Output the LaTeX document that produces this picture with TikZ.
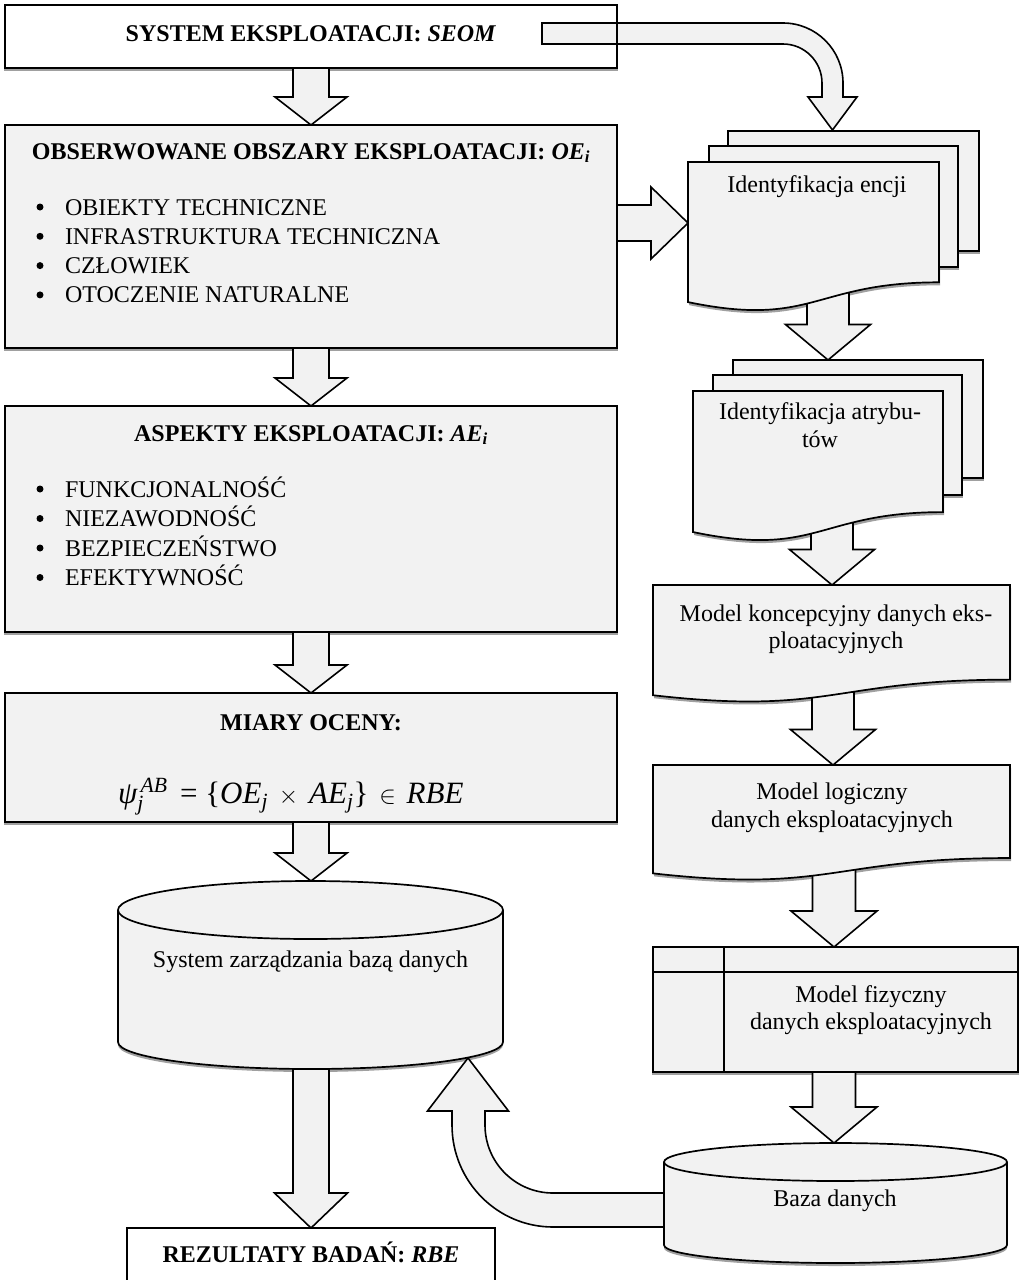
\documentclass[tikz,border=0pt]{standalone}
\usepackage{fontspec}
\setmainfont{Liberation Serif}
\usepackage{amsmath}
\usetikzlibrary{calc}

\definecolor{panel}{HTML}{F2F2F2}
\definecolor{shadecol}{HTML}{A0A0A0}

\pgfdeclarelayer{shadowlayer}
\pgfdeclarelayer{arrowlayer}
\pgfsetlayers{shadowlayer,arrowlayer,main}

% document sheet with a wavy lower edge: left, top, width, height
\newcommand\docpath[4]{(#1,#2) -- ({#1+#3},#2) -- ({#1+#3},{#2+0.802*#4})
  .. controls ({#1+0.5*#3},{#2+0.802*#4}) and ({#1+0.5*#3},{#2+1.107*#4}) .. (#1,{#2+0.934*#4}) -- cycle}

% drum outline: centre x, half width, top rim y, bottom rim y, top rim depth, bottom rim depth
\newcommand\drumpath[6]{({#1-#2},#3) -- ({#1-#2},#4)
  .. controls ({#1-#2},{#4+0.5523*#6}) and ({#1-0.5523*#2},{#4+#6}) .. (#1,{#4+#6})
  .. controls ({#1+0.5523*#2},{#4+#6}) and ({#1+#2},{#4+0.5523*#6}) .. ({#1+#2},#4)
  -- ({#1+#2},#3)
  .. controls ({#1+#2},{#3-0.5523*#5}) and ({#1+0.5523*#2},{#3-#5}) .. (#1,{#3-#5})
  .. controls ({#1-0.5523*#2},{#3-#5}) and ({#1-#2},{#3-0.5523*#5}) .. ({#1-#2},#3) -- cycle}

% front half of a drum's top rim: centre x, half width, rim y, rim depth
\newcommand\drumrim[4]{({#1-#2},#3)
  .. controls ({#1-#2},{#3+0.5523*#4}) and ({#1-0.5523*#2},{#3+#4}) .. (#1,{#3+#4})
  .. controls ({#1+0.5523*#2},{#3+#4}) and ({#1+#2},{#3+0.5523*#4}) .. ({#1+#2},#3)}

% downward block arrow: start, tip, half shaft, half head, head length
\newcommand\blockdown[5]{%
  \path[barrow] let \p1=(#1), \p2=(#2) in
    ({\x2-#3pt},\y1) -- ({\x2-#3pt},{\y2+#5pt}) -- ({\x2-#4pt},{\y2+#5pt}) -- (\p2)
    -- ({\x2+#4pt},{\y2+#5pt}) -- ({\x2+#3pt},{\y2+#5pt}) -- ({\x2+#3pt},\y1) -- cycle;}

% rightward block arrow: start, tip, half shaft, half head, head length
\newcommand\blockright[5]{%
  \path[barrow] let \p1=(#1), \p2=(#2) in
    (\x1,{\y2+#3pt}) -- ({\x2-#5pt},{\y2+#3pt}) -- ({\x2-#5pt},{\y2+#4pt}) -- (\p2)
    -- ({\x2-#5pt},{\y2-#4pt}) -- ({\x2-#5pt},{\y2-#3pt}) -- (\x1,{\y2-#3pt}) -- cycle;}

\tikzset{
  every node/.style={inner sep=0pt, outer sep=0pt},
  panelbox/.style={draw=black, fill=panel, line width=1.8pt, anchor=north west},
  framebox/.style={draw=black, fill=white, line width=1.8pt, anchor=north west},
  sheet/.style={draw=black, fill=panel, line width=1.7pt, line join=miter},
  barrow/.style={draw=black, fill=panel, line width=1.6pt, line join=miter},
  shade/.style={fill=shadecol},
  dot/.style={circle, fill=black, minimum size=7pt},
  txt/.style={font=\fontsize{24}{29.3}\selectfont, anchor=base},
  itm/.style={font=\fontsize{24}{29.3}\selectfont, anchor=base west},
  ttl/.style={font=\fontsize{24}{29.3}\selectfont\bfseries, anchor=base},
}

\begin{document}
\begin{tikzpicture}[x=1pt, y=-1pt]
\useasboundingbox (0,0) rectangle (1020,1280);

% ---------------- left column boxes
\node[draw=black, line width=1.8pt, anchor=north west, minimum width=612pt, minimum height=63pt] (sys) at (5,5) {};
\node[panelbox, minimum width=612pt, minimum height=223pt] (oe) at (5,125) {};
\node[panelbox, minimum width=612pt, minimum height=226pt] (ae) at (5,406) {};
\node[panelbox, minimum width=612pt, minimum height=129pt] (miary) at (5,693) {};
\node[framebox, minimum width=368pt, minimum height=80pt] (rbe) at (127,1228) {};

% database management system drum
\path[sheet] \drumpath{310.5}{192.5}{910}{1042}{29}{27};
\draw[line width=1.7pt] \drumrim{310.5}{192.5}{910}{29};
\coordinate (szbdTop) at (311,881);
\coordinate (szbdBase) at (311,1060);
\coordinate (szbdIn) at (468,1058);

% ---------------- right column
% entity identification (stack of sheets)
\draw[sheet] (728,131) rectangle (979,251);
\draw[sheet] (709,146) rectangle (958,267);
\path[sheet] \docpath{688}{162}{251}{150};
\coordinate (encjiTop) at (832.5,130);
\coordinate (encjiIn) at (688,223);
\coordinate (encjiOut) at (828,285);

% attribute identification (stack of sheets)
\draw[sheet] (733,360) rectangle (983,478);
\draw[sheet] (713,375) rectangle (962,495);
\path[sheet] \docpath{693}{391}{250}{151};
\coordinate (atrIn) at (828,360);
\coordinate (atrOut) at (832,505);

% conceptual and logical models
\path[sheet] \docpath{653}{585}{357}{118};
\coordinate (koncIn) at (832,585);
\coordinate (koncOut) at (833,670);
\path[sheet] \docpath{653}{765}{357}{116};
\coordinate (logIn) at (833,765);
\coordinate (logOut) at (834,850);

% physical model (internal storage)
\node[panelbox, minimum width=365pt, minimum height=125pt] (fiz) at (653,947) {};
\draw[line width=1.7pt] (724,947) -- (724,1072);
\draw[line width=1.7pt] (653,972) -- (1018,972);
\coordinate (fizIn) at (834,947);

% database drum
\path[sheet] \drumpath{835.5}{171.5}{1162}{1245}{19}{18};
\draw[line width=1.7pt] \drumrim{835.5}{171.5}{1162}{19};
\coordinate (bazaIn) at (834,1143);

% ---------------- shadows
\begin{pgfonlayer}{shadowlayer}
  \fill[white] (0,0) rectangle (1020,1280);
  \foreach \b in {sys,oe,ae,miary,fiz}
    \fill[shade] ([xshift=-1pt]\b.south west) rectangle ([xshift=1pt,yshift=-3pt]\b.south east);
  \fill[shade, shift={(1,3)}] (728,131) rectangle (979,251);
  \fill[shade, shift={(1,3)}] (709,146) rectangle (958,267);
  \fill[shade, shift={(1,3)}] \docpath{688}{162}{251}{150};
  \fill[shade, shift={(1,3)}] (733,360) rectangle (983,478);
  \fill[shade, shift={(1,3)}] (713,375) rectangle (962,495);
  \fill[shade, shift={(1,3)}] \docpath{693}{391}{250}{151};
  \fill[shade, shift={(1,3)}] \docpath{653}{585}{357}{118};
  \fill[shade, shift={(1,3)}] \docpath{653}{765}{357}{116};
  \fill[shade, shift={(0,3)}] \drumpath{310.5}{192.5}{910}{1042}{29}{27};
  \fill[shade, shift={(0,3)}] \drumpath{835.5}{171.5}{1162}{1245}{19}{18};
\end{pgfonlayer}

% ---------------- block arrows
\begin{pgfonlayer}{arrowlayer}
  \blockdown{sys.south}{oe.north}{18}{36}{28}
  \blockdown{oe.south}{ae.north}{18}{36}{28}
  \blockdown{ae.south}{miary.north}{18}{36}{28}
  \blockdown{miary.south}{szbdTop}{18}{36}{28}
  \blockdown{szbdBase}{rbe.north}{18}{36.5}{35}
  \blockright{600,223}{encjiIn}{18}{36}{37}
  \blockdown{encjiOut}{atrIn}{21}{42.5}{35.5}
  \blockdown{atrOut}{koncIn}{21}{42.5}{35.5}
  \blockdown{koncOut}{logIn}{21}{42.5}{35.5}
  \blockdown{logOut}{fizIn}{21.5}{43}{36}
  \blockdown{fiz.south}{bazaIn}{21.5}{43}{36}
  % bent arrow from the system box down to the entity sheets
  \path[barrow] (542,23) -- (783,23) .. controls (816.1,23) and (843,49.9) .. (843,83)
    -- (843,97) -- (857,97) -- (encjiTop) -- (808,97) -- (822,97) -- (822,83)
    .. controls (822,61.5) and (804.5,44) .. (783,44) -- (542,44) -- cycle;
  % bent arrow from the database back up to the management system
  \path[barrow] (690,1193) -- (553,1193) .. controls (515.4,1193) and (485,1162.6) .. (485,1125)
    -- (485,1111) -- (508.5,1111) -- (szbdIn) -- (427.5,1111) -- (452,1111) -- (452,1125)
    .. controls (452,1181.3) and (497.2,1227) .. (553,1227) -- (690,1227) -- cycle;
\end{pgfonlayer}

% ---------------- texts
\node[ttl] (tSys) at (311,41) {SYSTEM EKSPLOATACJI: \textit{SEOM}};

\node[ttl] (tOe) at (311,159) {OBSERWOWANE OBSZARY EKSPLOATACJI: \textit{OE}\textsubscript{\textit{i}}};
\foreach \yy/\lbl [count=\k] in {215/OBIEKTY TECHNICZNE, 244.3/INFRASTRUKTURA TECHNICZNA, 273.6/CZŁOWIEK, 302.9/OTOCZENIE NATURALNE} {
  \node[dot] (oeDot\k) at (40,\yy-8) {};
  \node[itm] (oeItem\k) at (65,\yy) {\lbl};
}

\node[ttl] (tAe) at (311,441) {ASPEKTY EKSPLOATACJI: \textit{AE}\textsubscript{\textit{i}}};
\foreach \yy/\lbl [count=\k] in {497/FUNKCJONALNOŚĆ, 526.5/NIEZAWODNOŚĆ, 556/BEZPIECZEŃSTWO, 585.5/EFEKTYWNOŚĆ} {
  \node[dot] (aeDot\k) at (40,\yy-8) {};
  \node[itm] (aeItem\k) at (65,\yy) {\lbl};
}

\node[ttl] (tMiary) at (311,730) {MIARY OCENY:};
\node[anchor=base west, font=\fontsize{31}{33}\selectfont] (formula) at (118,803)
  {$\textit{ψ}^{\,\textit{AB}}_{\textit{j}}$\hspace{0.4em}=\hspace{0.25em}\{\textit{OE}$_{\textit{j}}$\hspace{0.35em}$\times$\hspace{0.35em}\textit{AE}$_{\textit{j}}$\}\hspace{0.35em}$\in$\hspace{0.35em}\textit{RBE}};

\node[txt] (tSzbd) at (310.5,967) {System zarządzania bazą danych};
\node[ttl] (tRbe) at (311,1262) {REZULTATY BADAŃ: \textit{RBE}};

\node[txt] (tEncji) at (817,192) {Identyfikacja encji};
\node[txt] (tAtr1) at (820,419) {Identyfikacja atrybu-};
\node[txt] (tAtr2) at (820,447.5) {tów};
\node[txt] (tKonc1) at (836,621) {Model koncepcyjny danych eks-};
\node[txt] (tKonc2) at (836,648.5) {ploatacyjnych};
\node[txt] (tLog1) at (832,799) {Model logiczny};
\node[txt] (tLog2) at (832,827) {danych eksploatacyjnych};
\node[txt] (tFiz1) at (871,1002) {Model fizyczny};
\node[txt] (tFiz2) at (871,1029.5) {danych eksploatacyjnych};
\node[txt] (tBaza) at (835,1206) {Baza danych};
\end{tikzpicture}
\end{document}
